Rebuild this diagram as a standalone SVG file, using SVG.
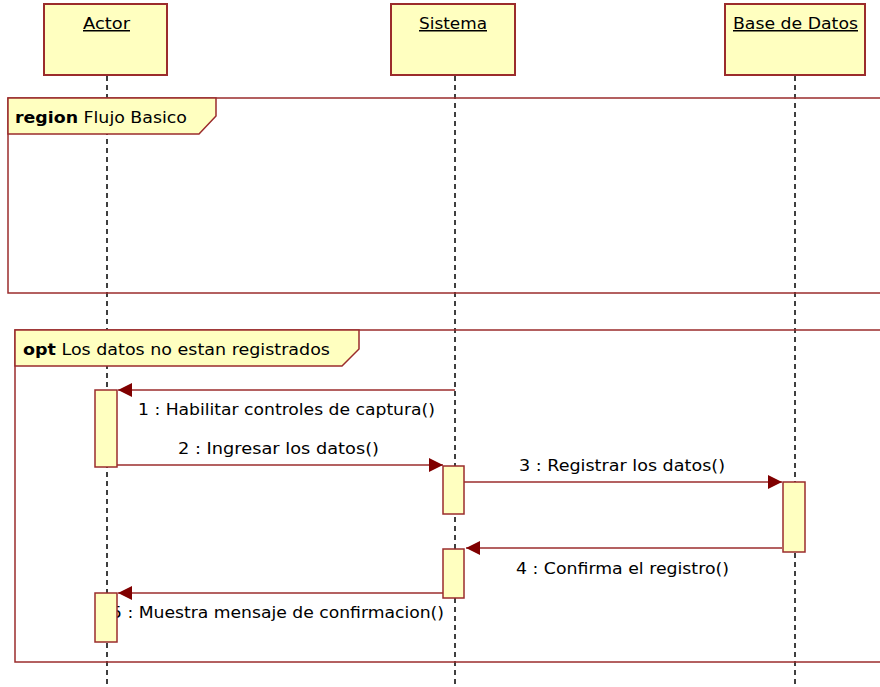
<svg xmlns="http://www.w3.org/2000/svg" width="880" height="687" viewBox="0 0 880 687">
<defs>
<style>
.box{fill:#ffffc0;stroke:#9b2c2c;stroke-width:2}
.act{fill:#ffffc0;stroke:#9b2c2c;stroke-width:1.5}
.frame{fill:none;stroke:#9b2c2c;stroke-width:1.5}
.tab{fill:#ffffc0;stroke:#9b2c2c;stroke-width:1.5}
.life{stroke:#000;stroke-width:1.5;stroke-dasharray:5 4}
.msg{stroke:#9b2c2c;stroke-width:1.5;fill:none}
text{font-family:"DejaVu Sans","Liberation Sans",sans-serif;font-size:15px;fill:#000}
.hdr{text-decoration:underline}
.b{font-weight:bold}
</style>
<marker id="arr" viewBox="0 0 10 10" refX="10" refY="5" markerWidth="16" markerHeight="14" markerUnits="userSpaceOnUse" orient="auto">
<path d="M0,0 L10,5 L0,10 z" fill="#800000"/>
</marker>
</defs>
<rect width="880" height="687" fill="#fff"/>
<g id="lifelines">
<line class="life" x1="107" y1="76" x2="107" y2="687"/>
<line class="life" x1="455" y1="76" x2="455" y2="687"/>
<line class="life" x1="795" y1="76" x2="795" y2="687"/>
</g>
<g id="region">
<rect class="frame" x="8" y="98" width="880" height="195"/>
<path class="tab" d="M8,98 L216,98 L216,116 L199,134 L8,134 Z"/>
<text x="15" y="123" textLength="172" lengthAdjust="spacingAndGlyphs"><tspan class="b">region</tspan> Flujo Basico</text>
</g>
<g id="opt">
<rect class="frame" x="15" y="330" width="880" height="332"/>
<path class="tab" d="M15,330 L359,330 L359,349 L342,366 L15,366 Z"/>
<text x="23" y="355" textLength="307" lengthAdjust="spacingAndGlyphs"><tspan class="b">opt</tspan> Los datos no estan registrados</text>
</g>
<g id="actor">
<rect class="box" x="44" y="4" width="123" height="71"/>
<text class="hdr" x="83" y="29" textLength="47" lengthAdjust="spacingAndGlyphs">Actor</text>
</g>
<g id="sistema">
<rect class="box" x="391" y="4" width="124" height="71"/>
<text class="hdr" x="419" y="29" textLength="68" lengthAdjust="spacingAndGlyphs">Sistema</text>
</g>
<g id="basedatos">
<rect class="box" x="725" y="4" width="140" height="71"/>
<text class="hdr" x="733" y="29" textLength="125" lengthAdjust="spacingAndGlyphs">Base de Datos</text>
</g>
<g id="connectors">
<line class="msg" x1="455" y1="390" x2="118" y2="390" marker-end="url(#arr)"/>
<text x="138" y="415" textLength="297" lengthAdjust="spacingAndGlyphs">1 : Habilitar controles de captura()</text>
<line class="msg" x1="117" y1="465" x2="443" y2="465" marker-end="url(#arr)"/>
<text x="178" y="454" textLength="201" lengthAdjust="spacingAndGlyphs">2 : Ingresar los datos()</text>
<line class="msg" x1="464" y1="482" x2="782" y2="482" marker-end="url(#arr)"/>
<text x="519" y="471" textLength="206" lengthAdjust="spacingAndGlyphs">3 : Registrar los datos()</text>
<line class="msg" x1="782" y1="548" x2="466" y2="548" marker-end="url(#arr)"/>
<text x="516" y="574" textLength="213" lengthAdjust="spacingAndGlyphs">4 : Confirma el registro()</text>
<line class="msg" x1="443" y1="593" x2="118" y2="593" marker-end="url(#arr)"/>
<text x="111" y="618" textLength="333" lengthAdjust="spacingAndGlyphs">5 : Muestra mensaje de confirmacion()</text>
</g>
<g id="activations">
<rect class="act" x="95" y="390" width="22" height="77"/>
<rect class="act" x="443" y="466" width="21" height="48"/>
<rect class="act" x="783" y="482" width="22" height="70"/>
<rect class="act" x="443" y="549" width="21" height="49"/>
<rect class="act" x="95" y="593" width="22" height="49"/>
</g>
</svg>
